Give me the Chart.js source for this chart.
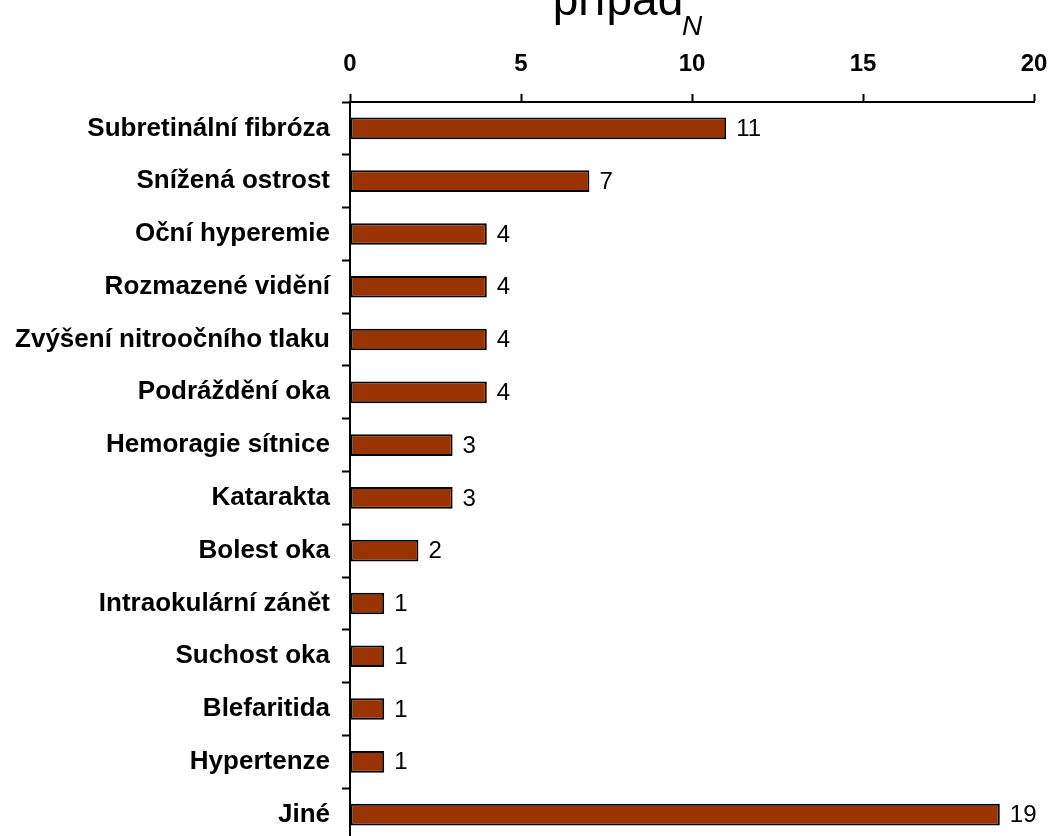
<!DOCTYPE html>
<html lang="cs">
<head>
<meta charset="utf-8">
<script src="https://cdn.jsdelivr.net/npm/chart.js@4/dist/chart.umd.min.js"></script>
<style>
    html, body { margin: 0; padding: 0; background: #fff; overflow: hidden; }
    #wrap { position: absolute; left: 0; top: -40px; width: 1050px; height: 881px; }
</style>
</head>
<body>
<div id="wrap"><canvas id="effectsChart"></canvas></div>
<script>
// Nežádoucí účinky - počet případů
const categories = [
    'Subretinální fibróza',
    'Snížená ostrost',
    'Oční hyperemie',
    'Rozmazené vidění',
    'Zvýšení nitroočního tlaku',
    'Podráždění oka',
    'Hemoragie sítnice',
    'Katarakta',
    'Bolest oka',
    'Intraokulární zánět',
    'Suchost oka',
    'Blefaritida',
    'Hypertenze',
    'Jiné'
];
const counts = [11, 7, 4, 4, 4, 4, 3, 3, 2, 1, 1, 1, 1, 19];
const xTicks = [0, 5, 10, 15, 20];
const headingText = 'případ';

const fontFamily = '"Liberation Sans", Arial, Helvetica, sans-serif';

// Number printed just right of each bar end
const valueLabels = {
    id: 'valueLabels',
    afterDatasetsDraw(chart) {
        const ctx = chart.ctx;
        const meta = chart.getDatasetMeta(0);
        ctx.save();
        ctx.font = '24px ' + fontFamily;
        ctx.fillStyle = '#000';
        ctx.textAlign = 'left';
        ctx.textBaseline = 'middle';
        meta.data.forEach((bar, i) => {
            ctx.fillText(String(counts[i]), bar.x + 10, bar.y + 1);
        });
        ctx.restore();
    }
};

// Large heading above the axis title, sitting left of the axis centre
const heading = {
    id: 'heading',
    afterDraw(chart) {
        const ctx = chart.ctx;
        const area = chart.chartArea;
        ctx.save();
        ctx.font = '46px ' + fontFamily;
        ctx.fillStyle = '#000';
        ctx.textAlign = 'center';
        ctx.textBaseline = 'alphabetic';
        ctx.fillText(headingText, (area.left + area.right) / 2 - 74, 55);
        ctx.restore();
    }
};

// Drop the extra room Chart.js keeps for overhanging edge labels
function noEdgePadding(axis) {
    axis.paddingLeft = 0;
    axis.paddingRight = 0;
    axis.paddingTop = 0;
    axis.paddingBottom = 0;
}

const ctx = document.getElementById('effectsChart').getContext('2d');
new Chart(ctx, {
    type: 'bar',
    data: {
        labels: categories,
        datasets: [{
            data: counts,
            backgroundColor: '#993300',
            borderColor: '#000',
            borderWidth: 2,
            borderSkipped: false,
            categoryPercentage: 1,
            barPercentage: 0.41
        }]
    },
    options: {
        indexAxis: 'y',
        responsive: true,
        maintainAspectRatio: false,
        animation: false,
        layout: { padding: { left: 0, right: 16, top: 0, bottom: 0 } },
        plugins: {
            legend: { display: false },
            tooltip: { enabled: false },
            title: { display: false }
        },
        scales: {
            x: {
                position: 'top',
                min: 0,
                max: 20,
                afterBuildTicks: (axis) => {
                    axis.ticks = xTicks.map(v => ({ value: v }));
                },
                afterFit: (axis) => {
                    axis.height = 142;
                    noEdgePadding(axis);
                },
                title: {
                    display: true,
                    text: 'N',
                    color: '#000',
                    font: { family: fontFamily, size: 28, style: 'italic', lineHeight: 1 },
                    padding: { top: 53, bottom: 0 }
                },
                ticks: {
                    color: '#000',
                    padding: 15,
                    font: { family: fontFamily, size: 24, weight: 'bold' }
                },
                grid: {
                    drawOnChartArea: false,
                    drawTicks: true,
                    tickLength: 8,
                    tickWidth: 2,
                    tickColor: '#000'
                },
                border: { display: true, color: '#000', width: 2 }
            },
            y: {
                afterFit: (axis) => {
                    axis.width = 350;
                    noEdgePadding(axis);
                },
                ticks: {
                    color: '#000',
                    padding: 12,
                    font: { family: fontFamily, size: 26, weight: 'bold' }
                },
                grid: {
                    offset: true,
                    drawOnChartArea: false,
                    drawTicks: true,
                    tickLength: 8,
                    tickWidth: 2,
                    tickColor: '#000'
                },
                border: { display: true, color: '#000', width: 2 }
            }
        }
    },
    plugins: [valueLabels, heading]
});
</script>
</body>
</html>
